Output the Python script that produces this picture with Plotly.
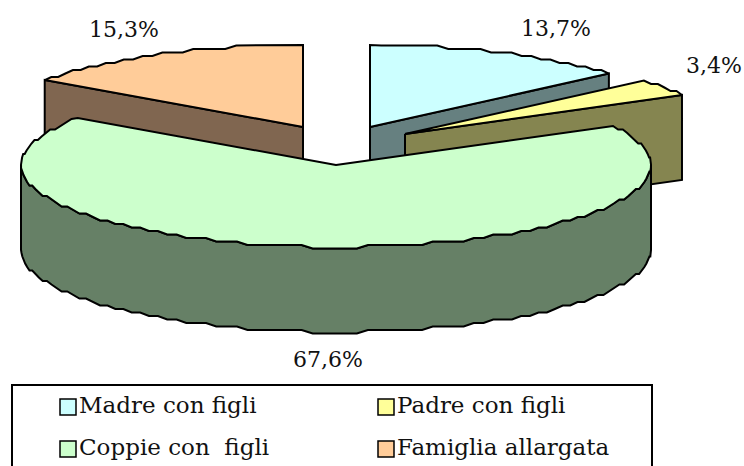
import math
import plotly.graph_objects as go

categories = ["Madre con figli", "Padre con figli", "Coppie con\u00a0 figli", "Famiglia allargata"]
values = [13.7, 3.4, 67.6, 15.3]
top_colors = ["#CCFFFF", "#FFFF99", "#CCFFCC", "#FFCC99"]
wall_colors = ["#668080", "#858550", "#668066", "#806650"]

# layout of the exploded, tilted pie (pixels of the page)
apex_x = [370, 405, 336, 303]
apex_y = [127, 134, 165, 127]
RX, RY, DEPTH = 315, 82, 85
label_x = [556, 714, 328, 124]
label_y = [28, 65, 359, 29]
legend_x = [68, 386, 68, 386]
legend_y = [407, 407, 449, 449]
STEP = 3.5  # stair-stepping of the rim, as in the low-resolution original


def rim(cx, cy, a0, a1):
    n = max(2, int(abs(a1 - a0) / 2))
    angs, xs, ys = [], [], []
    for i in range(n + 1):
        deg = a0 + (a1 - a0) * i / n
        a = math.radians(deg)
        x = cx + RX * math.sin(a)
        y = cy - RY * math.cos(a)
        if 0 < i < n:
            y = round(y / STEP) * STEP
        angs.append(deg)
        xs.append(x)
        ys.append(y)
    return angs, xs, ys


fig = go.Figure()


def poly(xs, ys, color):
    fig.add_trace(go.Scatter(x=xs, y=ys, mode="lines", fill="toself", fillcolor=color,
                             line=dict(color="black", width=2), hoverinfo="skip", showlegend=False))


total = sum(values)
angles = [0]
for v in values:
    angles.append(angles[-1] + 360 * v / total)

# back slices first (Madre, Padre, Famiglia), front slice (Coppie) last
for i in [0, 1, 3, 2]:
    cx, cy = apex_x[i], apex_y[i]
    a0, a1 = angles[i], angles[i + 1]
    angs, xs, ys = rim(cx, cy, a0, a1)
    if i == 2:
        keep = [k for k, d in enumerate(angs) if 90 <= d <= 270]
        fx = [xs[k] for k in keep]
        fy = [ys[k] for k in keep]
        # the widest points of the ellipse bound the front wall
        fx = [cx + RX] + fx + [cx - RX]
        fy = [cy] + fy + [cy]
        wx = fx + fx[::-1]
        wy = fy + [y + DEPTH for y in fy[::-1]]
        poly(wx + wx[:1], wy + wy[:1], wall_colors[i])
    else:
        edge = a1 if i != 3 else a0
        ex = cx + RX * math.sin(math.radians(edge))
        ey = cy - RY * math.cos(math.radians(edge))
        poly([cx, ex, ex, cx, cx], [cy, ey, ey + DEPTH, cy + DEPTH, cy], wall_colors[i])
    poly([cx] + xs + [cx], [cy] + ys + [cy], top_colors[i])

for i, c in enumerate(categories):
    fig.add_trace(go.Scatter(x=[legend_x[i]], y=[legend_y[i]], mode="markers+text",
                             marker=dict(symbol="square", size=16, color=top_colors[i],
                                         line=dict(color="black", width=1.5)),
                             text=[c], textposition="middle right",
                             textfont=dict(family="DejaVu Serif", size=23, color="#111111"),
                             hoverinfo="skip", showlegend=False))

for i, v in enumerate(values):
    fig.add_annotation(x=label_x[i], y=label_y[i], text=f"{v:.1f}".replace(".", ",") + "%",
                       showarrow=False, font=dict(family="DejaVu Serif", size=22, color="#111111"))

fig.add_shape(type="rect", x0=12, x1=652, y0=385, y1=470, line=dict(color="black", width=2), layer="below")

fig.update_layout(
    width=744, height=466, margin=dict(l=0, r=0, t=0, b=0), autosize=False,
    paper_bgcolor="white", plot_bgcolor="white", showlegend=False,
    xaxis=dict(range=[0, 744], visible=False, fixedrange=True),
    yaxis=dict(range=[466, 0], visible=False, fixedrange=True),
)
fig.write_html("out.html", config={"displayModeBar": False},
               post_script="document.body.style.margin='0';document.body.style.overflow='hidden';")
